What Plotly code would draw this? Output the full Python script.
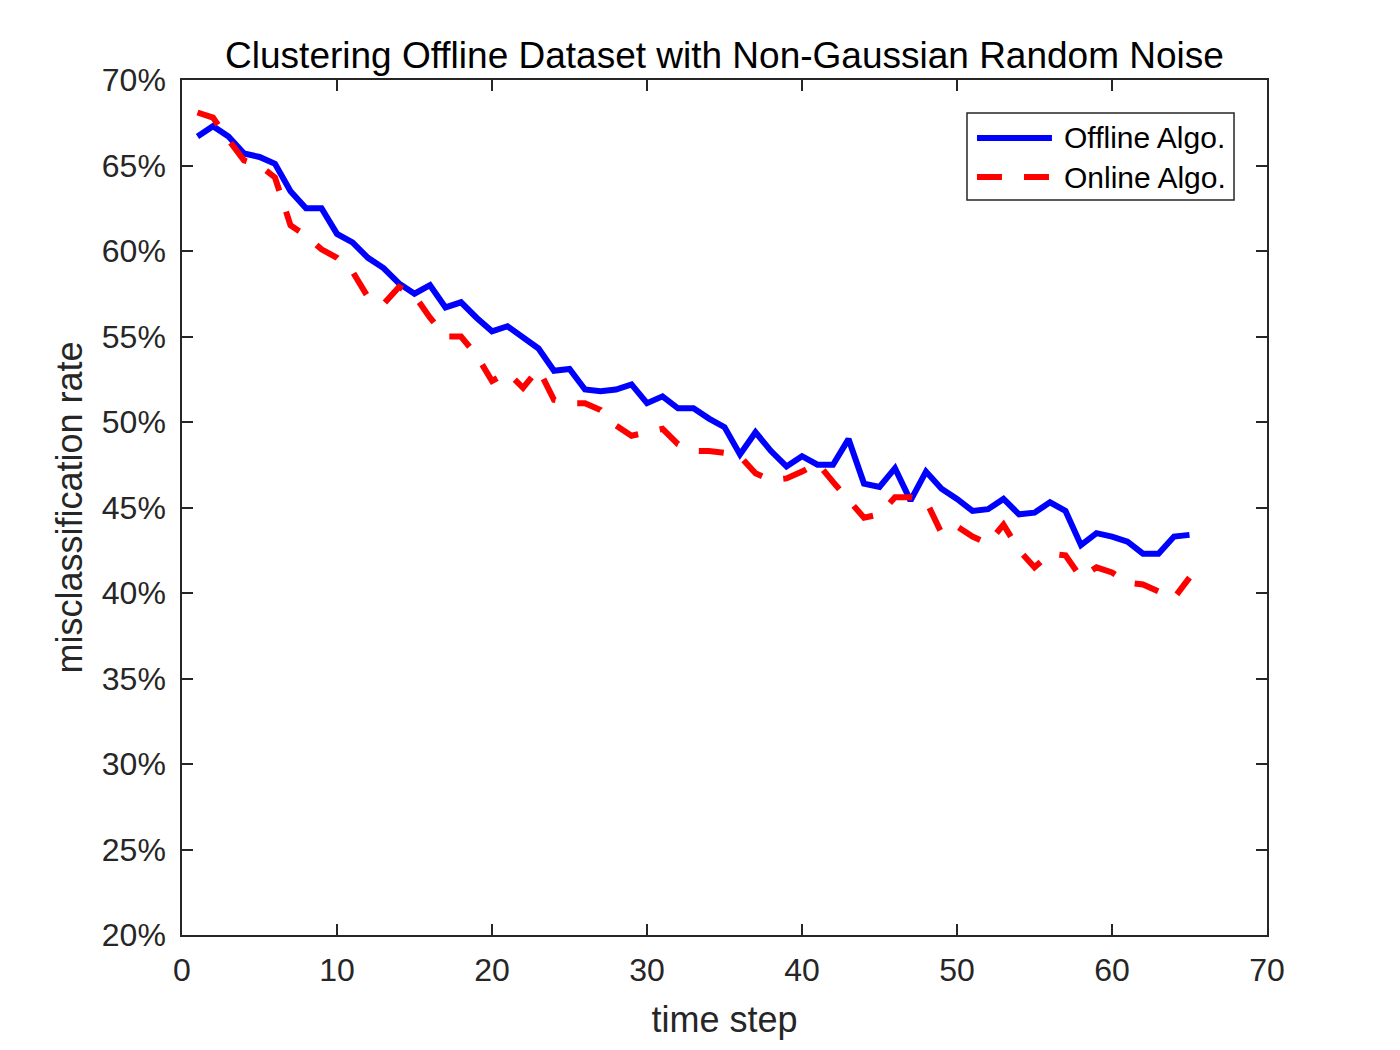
import plotly.graph_objects as go

time_step = list(range(1, 66))
offline = [66.7, 67.3, 66.7, 65.7, 65.5, 65.1, 63.5, 62.5, 62.5, 61.0,
           60.5, 59.6, 59.0, 58.1, 57.5, 58.0, 56.7, 57.0, 56.1, 55.3,
           55.6, 55.0, 54.3, 53.0, 53.1, 51.9, 51.8, 51.9, 52.2, 51.1,
           51.5, 50.8, 50.8, 50.2, 49.7, 48.1, 49.4, 48.3, 47.4, 48.0,
           47.5, 47.5, 49.0, 46.4, 46.2, 47.3, 45.4, 47.1, 46.1, 45.5,
           44.8, 44.9, 45.5, 44.6, 44.7, 45.3, 44.8, 42.8, 43.5, 43.3,
           43.0, 42.3, 42.3, 43.3, 43.4]
online = [68.1, 67.8, 66.5, 65.3, 65.0, 64.3, 61.5, 60.9, 60.1, 59.6,
          58.8, 57.3, 56.9, 57.9, 57.4, 56.1, 55.0, 55.0, 53.9, 52.4,
          52.9, 52.0, 53.1, 51.3, 51.1, 51.1, 50.7, 49.8, 49.2, 49.4,
          49.6, 48.7, 48.3, 48.3, 48.2, 48.0, 47.0, 46.6, 46.7, 47.1,
          47.6, 46.5, 45.4, 44.4, 44.6, 45.6, 45.6, 45.4, 43.5, 43.9,
          43.3, 42.9, 44.0, 42.5, 41.5, 42.3, 42.2, 40.9, 41.5, 41.2,
          40.6, 40.5, 40.1, 39.7, 40.9]

series_names = ["Offline Algo.", "Online Algo."]
series_colors = ["#0000FF", "#FF0000"]
series_dash = ["solid", "25px,22px"]

x_ticks = [0, 10, 20, 30, 40, 50, 60, 70]
y_ticks = [20, 25, 30, 35, 40, 45, 50, 55, 60, 65, 70]
y_tick_labels = [f"{v}%" for v in y_ticks]

font_family = "Liberation Sans, Arial, Helvetica, sans-serif"
axis_color = "#262626"
LW = 6

fig = go.Figure()
for ys, name, col, dash in zip([offline, online], series_names, series_colors, series_dash):
    fig.add_trace(go.Scatter(x=time_step, y=ys, mode="lines", name=name,
                             line=dict(color=col, width=LW, dash=dash), showlegend=False))

# MATLAB-style legend box (drawn in paper coordinates)
leg_x0, leg_x1, leg_y0, leg_y1 = 0.7235, 0.9696, 0.8596, 0.9614
line_x0, line_x1, text_x = 0.7327, 0.8018, 0.8111
row_y = [0.9322, 0.8865]
fig.add_shape(type="rect", xref="paper", yref="paper", x0=leg_x0, x1=leg_x1, y0=leg_y0, y1=leg_y1,
              line=dict(color=axis_color, width=1.5), fillcolor="white", layer="above")
for yy, name, col, dash in zip(row_y, series_names, series_colors, series_dash):
    fig.add_shape(type="line", xref="paper", yref="paper", x0=line_x0, x1=line_x1, y0=yy, y1=yy,
                  line=dict(color=col, width=LW, dash=dash), layer="above")
    fig.add_annotation(xref="paper", yref="paper", x=text_x, y=yy, text=name, showarrow=False,
                       xanchor="left", yanchor="middle",
                       font=dict(size=30, color="black", family=font_family))

fig.update_layout(
    width=1400, height=1050,
    margin=dict(l=174, r=141, t=72, b=123),
    paper_bgcolor="white", plot_bgcolor="white",
    font=dict(family=font_family, color=axis_color, size=32),
    title=dict(text="Clustering Offline Dataset with Non-Gaussian Random Noise",
               x=0.5, xref="paper", xanchor="center", y=1 - 47 / 1050, yanchor="middle",
               font=dict(size=37, color="black", family=font_family)),
    showlegend=False,
)
fig.update_xaxes(range=[0, 70], tickvals=x_ticks, ticks="inside", ticklen=11,
                 tickwidth=1.5, tickcolor=axis_color, showline=True, linewidth=1.5,
                 linecolor=axis_color, mirror="ticks", showgrid=False, zeroline=False,
                 tickfont=dict(size=32, color=axis_color), ticklabelstandoff=6,
                 title=dict(text="time step", font=dict(size=36, color=axis_color), standoff=20))
fig.update_yaxes(range=[20, 70], tickvals=y_ticks, ticktext=y_tick_labels, ticks="inside",
                 ticklen=11, tickwidth=1.5, tickcolor=axis_color, showline=True,
                 linewidth=1.5, linecolor=axis_color, mirror="ticks", showgrid=False,
                 zeroline=False, tickfont=dict(size=32, color=axis_color), ticklabelstandoff=8,
                 title=dict(text="misclassification rate", font=dict(size=36, color=axis_color),
                            standoff=8))

fig.write_html("out.html")
